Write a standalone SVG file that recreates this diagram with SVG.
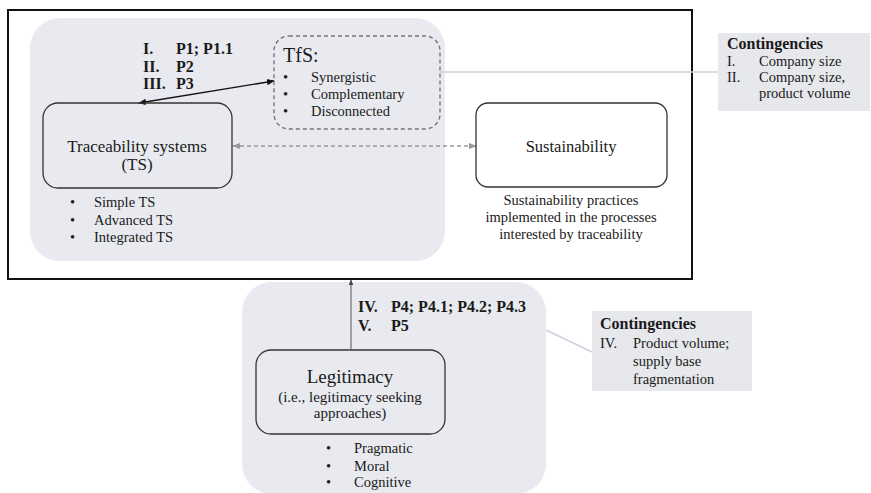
<svg xmlns="http://www.w3.org/2000/svg" width="871" height="493" viewBox="0 0 871 493">
<style>
text{font-family:"Liberation Serif","Times New Roman",serif;fill:#1a1a1a}
.b{font-weight:bold;font-size:16px}
.s{font-size:14.5px}
.panel{fill:#e8eaef;stroke:none}
.box{fill:none;stroke:#333;stroke-width:1.3}
.cont{fill:#e6e8ec;stroke:none}
.link{stroke:#ccd2da;stroke-width:1.5;fill:none}
</style>
<defs>
<marker id="ab" viewBox="0 0 10 10" refX="9" refY="5" markerWidth="6" markerHeight="6" orient="auto-start-reverse"><path d="M0,1 L10,5 L0,9 z" fill="#111"/></marker>
<marker id="ag" viewBox="0 0 10 10" refX="9" refY="5" markerWidth="5" markerHeight="5" orient="auto-start-reverse"><path d="M0,1 L10,5 L0,9 z" fill="#999"/></marker>
<marker id="ad" viewBox="0 0 10 10" refX="9" refY="5" markerWidth="6" markerHeight="6" orient="auto"><path d="M0,1 L10,5 L0,9 z" fill="#444"/></marker>
</defs>

<rect id="frame" x="8" y="10" width="684" height="269" fill="#fff" stroke="#111" stroke-width="2"/>

<g id="panel-top">
<rect class="panel" x="30" y="18" width="415" height="243" rx="30"/>
</g>
<g id="panel-bottom">
<rect class="panel" x="242" y="282" width="304" height="212" rx="30"/>
</g>

<g id="connectors">
<line class="link" x1="440" y1="72" x2="718" y2="72"/>
<line class="link" x1="546" y1="330" x2="592" y2="352"/>
<line x1="139" y1="103" x2="274" y2="81" stroke="#111" stroke-width="1.3" marker-start="url(#ab)" marker-end="url(#ab)"/>
<line x1="233" y1="146" x2="476" y2="146" stroke="#999" stroke-width="1.6" stroke-dasharray="4 3" marker-start="url(#ag)" marker-end="url(#ag)"/>
<line x1="351" y1="349" x2="351" y2="280" stroke="#555" stroke-width="1" marker-end="url(#ad)"/>
</g>

<g id="labels-top">
<text class="b" x="143" y="54">I.</text><text class="b" x="176" y="54">P1; P1.1</text>
<text class="b" x="143" y="72">II.</text><text class="b" x="176" y="72">P2</text>
<text class="b" x="143" y="89">III.</text><text class="b" x="176" y="89">P3</text>
</g>

<g id="ts">
<rect class="box" x="43" y="103" width="189" height="85" rx="15"/>
<text x="137" y="152" font-size="17" text-anchor="middle">Traceability systems</text>
<text x="137" y="170" font-size="17" text-anchor="middle">(TS)</text>
<g class="s">
<text class="s" x="70" y="207">•</text><text class="s" x="94" y="207">Simple TS</text>
<text class="s" x="70" y="225">•</text><text class="s" x="94" y="225">Advanced TS</text>
<text class="s" x="70" y="242">•</text><text class="s" x="94" y="242">Integrated TS</text>
</g>
</g>

<g id="tfs">
<rect x="274" y="36" width="166" height="93" rx="15" fill="none" stroke="#777" stroke-width="1.4" stroke-dasharray="4 3"/>
<text x="283" y="62" font-size="20">TfS:</text>
<text class="s" x="283" y="82">•</text><text class="s" x="311" y="82">Synergistic</text>
<text class="s" x="283" y="99">•</text><text class="s" x="311" y="99">Complementary</text>
<text class="s" x="283" y="116">•</text><text class="s" x="311" y="116">Disconnected</text>
</g>

<g id="sustainability">
<rect class="box" x="476" y="103" width="191" height="84" rx="12"/>
<text x="571" y="152" font-size="16.5" text-anchor="middle">Sustainability</text>
<text class="s" x="571" y="205" text-anchor="middle">Sustainability practices</text>
<text class="s" x="571" y="222" text-anchor="middle">implemented in the processes</text>
<text class="s" x="571" y="239" text-anchor="middle">interested by traceability</text>
</g>

<g id="contingencies-1">
<rect class="cont" x="718" y="33" width="152" height="78"/>
<text class="b" x="727" y="49">Contingencies</text>
<text class="s" x="727" y="66">I.</text><text class="s" x="759" y="66">Company size</text>
<text class="s" x="727" y="82">II.</text><text class="s" x="759" y="82">Company size,</text>
<text class="s" x="759" y="98">product volume</text>
</g>

<g id="labels-bottom">
<text class="b" x="358" y="312">IV.</text><text class="b" x="391" y="312">P4; P4.1; P4.2; P4.3</text>
<text class="b" x="358" y="331">V.</text><text class="b" x="391" y="331">P5</text>
</g>

<g id="legitimacy">
<rect class="box" x="256" y="350" width="189" height="84" rx="15"/>
<text x="350" y="383" font-size="19" text-anchor="middle">Legitimacy</text>
<text x="350" y="402" font-size="15" text-anchor="middle">(i.e., legitimacy seeking</text>
<text x="350" y="418" font-size="15" text-anchor="middle">approaches)</text>
<text class="s" x="326" y="453">•</text><text class="s" x="354" y="453">Pragmatic</text>
<text class="s" x="326" y="471">•</text><text class="s" x="354" y="471">Moral</text>
<text class="s" x="326" y="487">•</text><text class="s" x="354" y="487">Cognitive</text>
</g>

<g id="contingencies-2">
<rect class="cont" x="592" y="311" width="160" height="80"/>
<text class="b" x="600" y="329">Contingencies</text>
<text class="s" x="600" y="348">IV.</text><text class="s" x="633" y="348">Product volume;</text>
<text class="s" x="633" y="366">supply base</text>
<text class="s" x="633" y="384">fragmentation</text>
</g>
</svg>
